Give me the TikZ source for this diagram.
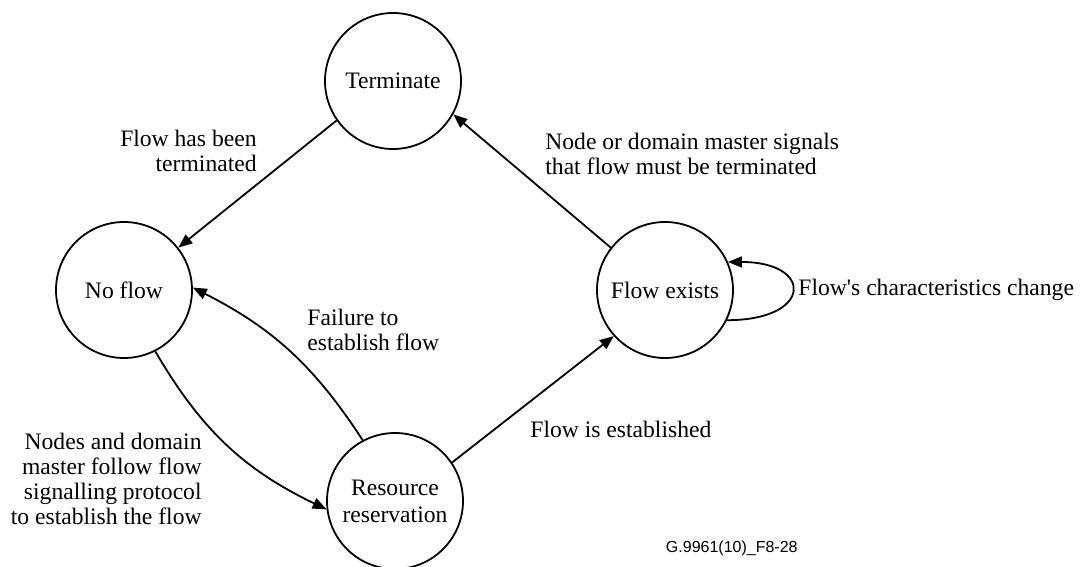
\documentclass[tikz,border=0pt]{standalone}
\usepackage{fontspec}
\setmainfont{Liberation Serif}
\setsansfont{Liberation Sans}
\usetikzlibrary{arrows.meta}

\begin{document}
\begin{tikzpicture}[x=0.5pt, y=0.5pt,
        state/.style={draw, circle, line width=0.9pt, minimum size=68pt, inner sep=0pt, align=center, font=\fontsize{11.8}{13.5}\selectfont},
        lbl/.style={inner sep=0pt, font=\fontsize{11.8}{12.5}\selectfont},
        arr/.style={line width=0.9pt, -{Triangle[length=7pt,width=5.5pt]}}]
        \useasboundingbox (0,0) rectangle (1083,-567);
        % states
        \node [state] (term) at (393,-81) {Terminate};
        \node [state] (noflow) at (124,-290) {No flow};
        \node [state] (exists) at (665,-290) {Flow exists};
        \node [state] (resv) at (395,-501) {Resource\\reservation};

        % transitions
        \draw [arr] (term.215) -- (noflow.38);
        \draw [arr] (exists.142) -- (term.-29);
        \draw [arr] (resv.34) -- (exists.222);
        \draw [arr] (noflow.-63) to[bend right=17] (resv.187);
        \draw [arr] (resv.118) to[bend right=15] (noflow.2);
        \draw [arr] (exists.-26) .. controls +(86,0) and +(86,0) .. (exists.24);

        % labels
        \node [lbl, anchor=east, align=right] (terminated) at (257,-151) {Flow has been\\terminated};
        \node [lbl, anchor=west, align=left] (signals) at (545,-154) {Node or domain master signals\\that flow must be terminated};
        \node [lbl, anchor=west] (change) at (798,-290) {Flow\textquotesingle s characteristics change};
        \node [lbl, anchor=west, align=left] (failure) at (307,-330) {Failure to\\establish flow};
        \node [lbl, anchor=west] (established) at (530,-429) {Flow is established};
        \node [lbl, anchor=east, align=right] (protocol) at (202,-479) {Nodes and domain\\master follow flow\\signalling protocol\\to establish the flow};
        \node [inner sep=0pt, anchor=east, font=\sffamily\fontsize{8}{9.6}\selectfont] (figno) at (798,-548) {G.9961(10)\_F8-28};
\end{tikzpicture}
\end{document}
